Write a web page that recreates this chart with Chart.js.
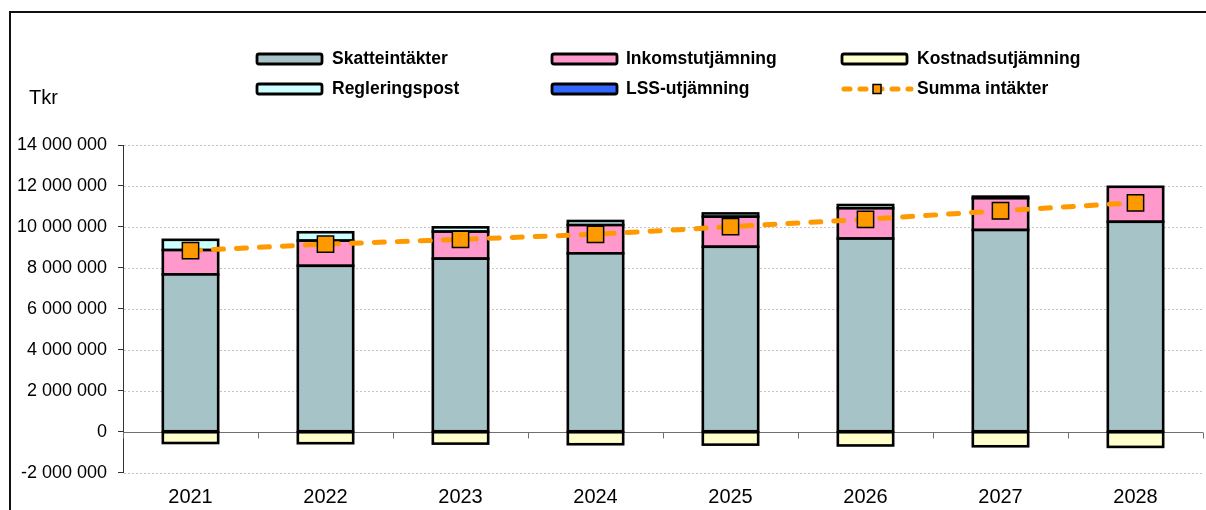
<!DOCTYPE html>
<html>
<head>
<meta charset="utf-8">
<script src="https://cdn.jsdelivr.net/npm/chart.js@4.4.1/dist/chart.umd.min.js"></script>
<style>
  html, body { margin: 0; padding: 0; background: #fff; overflow: hidden; width: 1206px; height: 510px; }
  #wrap { position: absolute; left: 0; top: 0; width: 1216px; height: 510px; }
  #frame { position: absolute; left: 9px; top: 11px; width: 1300px; height: 600px; border-top: 2px solid #111; border-left: 2px solid #111; pointer-events: none; }
</style>
</head>
<body>
<div id="frame"></div>
<div id="wrap"><canvas id="c" width="1216" height="510"></canvas></div>
<script>
// ---- data (Tkr) ----
const years = ['2021', '2022', '2023', '2024', '2025', '2026', '2027', '2028'];
const skatteintakter   = [7680000, 8100000, 8450000, 8710000, 9030000, 9430000, 9850000, 10250000];
const inkomstutjamning = [1190000, 1230000, 1320000, 1380000, 1470000, 1480000, 1550000, 1710000];
const regleringspost   = [500000, 410000, 210000, 200000, 160000, 160000, 80000, 0];
const lssUtjamning     = [0, 0, 0, 0, 0, 0, 0, 0];
const kostnadsutjamning = [-550000, -560000, -580000, -610000, -630000, -670000, -710000, -740000];
const summaIntakter    = [8840000, 9160000, 9390000, 9640000, 10010000, 10370000, 10790000, 11180000];
const yTicks = [-2000000, 0, 2000000, 4000000, 6000000, 8000000, 10000000, 12000000, 14000000];

const fmt = v => String(v).replace(/\B(?=(\d{3})+(?!\d))/g, ' ');

const barCommon = { stack: 'bars', borderWidth: 0, order: 1,
  barPercentage: 0.41, categoryPercentage: 1.0 };

const legendPos = [
  { ds: 0, sx: 256, tx: 332, y: 59 },
  { ds: 1, sx: 551, tx: 626, y: 59 },
  { ds: 2, sx: 841, tx: 917, y: 59 },
  { ds: 3, sx: 256, tx: 332, y: 89 },
  { ds: 4, sx: 551, tx: 626, y: 89 },
  { ds: 5, sx: 841, tx: 917, y: 89 }
];

const decorPlugin = {
  id: 'decor',
  beforeDatasetsDraw(chart) {
    const { ctx, chartArea, scales: { x, y } } = chart;
    ctx.save();
    ctx.strokeStyle = '#c4c4c4';
    ctx.lineWidth = 1;
    ctx.setLineDash([2, 2]);
    yTicks.forEach(v => {
      if (v === 0) return;
      const py = Math.round(y.getPixelForValue(v)) + 0.5;
      ctx.beginPath(); ctx.moveTo(chartArea.left + 1, py); ctx.lineTo(chartArea.right, py); ctx.stroke();
    });
    ctx.setLineDash([]);
    const y0 = Math.round(y.getPixelForValue(0)) + 0.5;
    ctx.strokeStyle = '#707070';
    ctx.beginPath(); ctx.moveTo(chartArea.left, y0); ctx.lineTo(chartArea.right, y0); ctx.stroke();
    for (let i = 0; i <= years.length; i++) {
      const px = Math.round(x.getPixelForValue(i - 0.5)) + 0.5;
      ctx.beginPath(); ctx.moveTo(px, y0); ctx.lineTo(px, y0 + 6); ctx.stroke();
    }
    ctx.restore();
  },
  afterDatasetDraw(chart, args) {
    const ds = chart.data.datasets[args.index];
    if (ds.type !== 'bar') return;
    const { ctx } = chart;
    ctx.save();
    ctx.strokeStyle = '#000';
    ctx.lineWidth = 2.6;
    ctx.lineJoin = 'miter';
    args.meta.data.forEach(el => {
      const p = el.getProps(['x', 'y', 'base', 'width'], true);
      const h = Math.abs(p.base - p.y);
      if (h < 0.5) return;
      ctx.strokeRect(p.x - p.width / 2, Math.min(p.y, p.base), p.width, h);
    });
    ctx.restore();
  },
  afterDraw(chart) {
    const { ctx } = chart;
    ctx.save();
    ctx.font = 'bold 17.5px "Liberation Sans", Arial, sans-serif';
    ctx.textBaseline = 'middle';
    legendPos.forEach(p => {
      const d = chart.data.datasets[p.ds];
      if (d.type === 'line') {
        ctx.strokeStyle = d.borderColor; ctx.lineWidth = 5; ctx.lineCap = 'round';
        ctx.setLineDash([6, 10]);
        ctx.beginPath(); ctx.moveTo(p.sx + 3, p.y); ctx.lineTo(p.sx + 70, p.y); ctx.stroke();
        ctx.setLineDash([]);
        ctx.fillStyle = d.pointBackgroundColor; ctx.strokeStyle = '#000'; ctx.lineWidth = 1.5;
        ctx.fillRect(p.sx + 32, p.y - 4.5, 8, 9); ctx.strokeRect(p.sx + 32, p.y - 4.5, 8, 9);
      } else {
        ctx.fillStyle = d.backgroundColor; ctx.strokeStyle = '#000'; ctx.lineWidth = 2.8;
        ctx.beginPath(); ctx.roundRect(p.sx + 1, p.y - 5, 65, 10, 2); ctx.fill(); ctx.stroke();
      }
      ctx.fillStyle = '#000';
      ctx.fillText(d.label, p.tx, p.y);
    });
    ctx.font = '20px "Liberation Sans", Arial, sans-serif';
    ctx.fillText('Tkr', 29, 98);
    ctx.restore();
  }
};

new Chart(document.getElementById('c'), {
  data: {
    labels: years,
    datasets: [
      { type: 'bar', label: 'Skatteintäkter', data: skatteintakter, backgroundColor: '#A6C3C8', ...barCommon },
      { type: 'bar', label: 'Inkomstutjämning', data: inkomstutjamning, backgroundColor: '#FF99CC', ...barCommon },
      { type: 'bar', label: 'Kostnadsutjämning', data: kostnadsutjamning, backgroundColor: '#FFFFCC', ...barCommon },
      { type: 'bar', label: 'Regleringspost', data: regleringspost, backgroundColor: '#CCFFFF', ...barCommon },
      { type: 'bar', label: 'LSS-utjämning', data: lssUtjamning, backgroundColor: '#3366FF', ...barCommon },
      { type: 'line', label: 'Summa intäkter', data: summaIntakter, stack: 'sum', order: 0,
        borderColor: '#FF9900', borderWidth: 5, borderDash: [10, 13], borderCapStyle: 'round',
        tension: 0, fill: false,
        pointStyle: 'rect', pointRadius: 11.5, pointHoverRadius: 11.5,
        pointBackgroundColor: '#FF9900', pointBorderColor: '#000', pointBorderWidth: 1.5 }
    ]
  },
  options: {
    responsive: false,
    animation: false,
    devicePixelRatio: 1,
    layout: { padding: { top: 145, right: 4, bottom: 0, left: 0 } },
    plugins: { legend: { display: false }, tooltip: { enabled: false } },
    scales: {
      x: {
        stacked: true,
        afterFit: s => { s.height = 37.3; },
        grid: { display: false, drawTicks: false },
        border: { display: false },
        ticks: { color: '#000', padding: 13, font: { family: '"Liberation Sans", Arial, sans-serif', size: 20 } }
      },
      y: {
        stacked: true,
        min: -2000000, max: 14000000,
        afterFit: s => { s.width = 123; },
        afterBuildTicks: s => { s.ticks = yTicks.map(v => ({ value: v })); },
        grid: { drawOnChartArea: false, drawTicks: true, tickLength: 5, tickColor: '#333', tickWidth: 1 },
        border: { display: true, color: '#333', width: 1 },
        ticks: { color: '#000', padding: 11, callback: v => fmt(v),
          font: { family: '"Liberation Sans", Arial, sans-serif', size: 18 } }
      }
    }
  },
  plugins: [decorPlugin]
});
</script>
</body>
</html>
